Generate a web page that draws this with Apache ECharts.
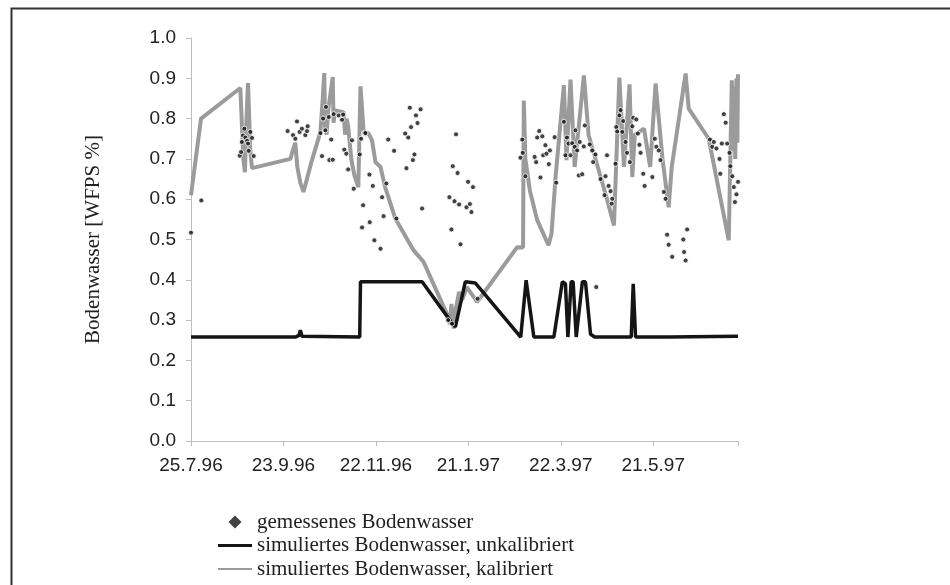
<!DOCTYPE html>
<html>
<head>
<meta charset="utf-8">
<script src="https://cdn.jsdelivr.net/npm/echarts@6/dist/echarts.min.js"></script>
<style>
    html, body { margin: 0; padding: 0; background: #fff; }
    #chart { width: 950px; height: 585px; }
</style>
</head>
<body>
<div id="chart"></div>
<script>
// x = Tage ab 25.7.96, Tickabstand 60 Tage
var xTickLabels = ['25.7.96', '23.9.96', '22.11.96', '21.1.97', '22.3.97', '21.5.97'];

// gemessenes Bodenwasser [Tag, WFPS]
var measured = [
    [0, 0.517], [6.7, 0.597],
    [31.6, 0.708], [32.5, 0.717], [33, 0.742], [33.8, 0.758], [34.6, 0.775], [35.3, 0.753], [36.4, 0.745], [37, 0.738], [37.4, 0.72], [38.5, 0.767], [39.6, 0.752], [40.7, 0.707],
    [62.7, 0.769], [66.2, 0.759], [67.7, 0.75], [68.8, 0.793], [70.5, 0.767], [72, 0.775], [74.2, 0.759], [75.3, 0.769], [75.7, 0.781],
    [84, 0.764], [85, 0.707], [85.7, 0.80], [87.2, 0.771], [87.6, 0.829], [89.4, 0.804], [89.8, 0.697], [91, 0.748], [92, 0.698], [92.6, 0.811], [95.8, 0.808], [98, 0.797], [98.7, 0.81], [99.5, 0.723], [100.8, 0.713], [102, 0.674], [104.5, 0.746], [105.6, 0.626], [109.5, 0.711], [110.4, 0.75], [111, 0.53], [111.7, 0.585], [112.7, 0.765], [113.2, 0.764], [115.8, 0.661], [116, 0.543], [118, 0.633], [119, 0.498], [123, 0.477], [124, 0.605], [125, 0.558], [126.8, 0.639], [128, 0.748], [131.8, 0.72], [133.3, 0.552],
    [139, 0.763], [139.8, 0.677], [141, 0.753], [142, 0.827], [142.8, 0.779], [144, 0.697], [145, 0.711], [146, 0.808], [147, 0.789], [149, 0.823], [150, 0.577],
    [166.9, 0.30], [167.7, 0.605], [169, 0.525], [169.4, 0.291], [169.9, 0.682], [171, 0.595], [172, 0.761], [173, 0.665], [174, 0.587], [174.9, 0.488], [178.8, 0.58], [179.8, 0.643], [181, 0.588], [182, 0.568], [183, 0.63], [186, 0.353],
    [213.8, 0.703], [215, 0.748], [215.3, 0.715], [217, 0.657], [223, 0.705], [224, 0.692], [224.7, 0.753], [226, 0.769], [226.8, 0.654], [228, 0.756], [228.6, 0.709], [230, 0.734], [230.7, 0.713], [232.2, 0.687], [232.9, 0.721],
    [236, 0.754], [237, 0.641], [242, 0.792], [243, 0.709], [244, 0.753], [245, 0.738], [246.3, 0.709], [247.4, 0.739], [249, 0.73], [249.5, 0.771], [250.6, 0.721], [251.7, 0.659], [252.3, 0.742], [253.9, 0.662], [254.9, 0.731], [255.6, 0.783], [258.8, 0.736], [260.4, 0.721], [261, 0.692], [262.5, 0.711], [263, 0.382], [265.8, 0.65], [268.4, 0.61], [269, 0.657], [270, 0.709], [271, 0.633], [272.3, 0.62], [273, 0.589], [273.4, 0.601], [275.5, 0.688], [276, 0.779], [276.6, 0.768], [278, 0.808], [278.8, 0.821], [279.9, 0.767], [280.5, 0.794], [282, 0.742], [283, 0.715], [284.8, 0.692], [286.4, 0.781], [287, 0.802], [289, 0.798], [290, 0.763], [291, 0.735], [291.8, 0.715], [293.5, 0.663], [294.4, 0.633], [299.4, 0.655], [301, 0.75], [302, 0.73], [303.6, 0.721], [304.7, 0.697], [306.9, 0.618], [308, 0.601], [309, 0.512], [310, 0.487], [312.3, 0.457], [319.5, 0.50], [320, 0.469], [321, 0.448], [322, 0.525],
    [336.8, 0.748], [338.3, 0.73], [339.3, 0.742], [341, 0.726], [343, 0.70], [343.5, 0.663], [344.5, 0.738], [345.8, 0.811], [347, 0.79], [348, 0.738], [349.5, 0.715], [350, 0.682], [351.3, 0.657], [352.3, 0.63], [353, 0.593], [354, 0.612], [355, 0.643]
];

// simuliert, unkalibriert
var simUncal = [
    [0, 0.258], [68, 0.258], [70, 0.262], [71, 0.275], [72, 0.26], [109.5, 0.258], [110, 0.395], [150, 0.395],
    [168, 0.30], [171.6, 0.283], [178, 0.395], [184.6, 0.392], [214, 0.258], [217.5, 0.399], [222.5, 0.258],
    [235.5, 0.258], [241, 0.395], [243, 0.39], [244.6, 0.258], [246.7, 0.395], [248, 0.395], [250, 0.258],
    [254, 0.395], [256, 0.395], [259.3, 0.265], [262, 0.258], [285.7, 0.258], [287, 0.39], [288.5, 0.258],
    [310, 0.258], [355, 0.26]
];

// simuliert, kalibriert
var simCal = [
    [0, 0.61], [6.5, 0.80], [32, 0.876], [34, 0.70], [35, 0.667], [36, 0.80], [37, 0.888], [38.5, 0.72], [39.6, 0.677],
    [64.5, 0.70], [66, 0.72], [67.7, 0.74], [69, 0.68], [71, 0.64], [73, 0.618], [78, 0.69], [84, 0.767],
    [85.5, 0.85], [86.5, 0.913], [87, 0.78], [88, 0.76], [89, 0.82], [92, 0.903], [92.5, 0.79], [93.5, 0.82],
    [99, 0.816], [100, 0.76], [101, 0.80], [102, 0.78], [104, 0.70], [106, 0.66], [108.6, 0.63], [110, 0.88],
    [110.6, 0.882], [112, 0.771], [113, 0.76], [115, 0.765], [117.5, 0.746], [119.7, 0.692], [123, 0.68],
    [126, 0.63], [132.6, 0.552], [144.5, 0.473], [151, 0.444], [166, 0.316], [168, 0.29], [169, 0.34],
    [170.5, 0.279], [172, 0.33], [174, 0.37], [176, 0.35], [179, 0.382], [185.7, 0.345], [211.7, 0.481],
    [215.5, 0.48], [216, 0.845], [217, 0.70], [220, 0.62], [224.7, 0.548], [232, 0.486], [234, 0.515],
    [236.6, 0.655], [242, 0.883], [243.7, 0.697], [246.3, 0.897], [249, 0.68], [255, 0.907], [258, 0.76],
    [264, 0.68], [270, 0.60], [274.5, 0.535], [278, 0.902], [281, 0.68], [284.6, 0.885], [286.4, 0.655],
    [288, 0.76], [294, 0.775], [298, 0.68], [301.5, 0.887], [306, 0.70], [310, 0.58], [312, 0.68],
    [321, 0.912], [323, 0.825], [336, 0.75], [349, 0.498], [351, 0.895], [351.8, 0.72], [352.5, 0.88],
    [353.2, 0.70], [354, 0.90], [354.6, 0.74], [355, 0.91]
];

var seriesNames = [
    'gemessenes Bodenwasser',
    'simuliertes Bodenwasser, unkalibriert',
    'simuliertes Bodenwasser, kalibriert'
];

var myChart = echarts.init(document.getElementById('chart'));

var option = {
    backgroundColor: '#fff',
    animation: false,
    grid: { left: 191, right: 212, top: 38, bottom: 144 },
    legend: {
        orient: 'vertical',
        left: 218,
        top: 511,
        height: 80,
        padding: 0,
        itemWidth: 34,
        itemHeight: 13,
        itemGap: 1.5,
        textStyle: { fontFamily: 'Liberation Serif', fontSize: 21, color: '#222', lineHeight: 22 },
        data: [
            { name: seriesNames[0], icon: 'path://M6,0L12,6L6,12L0,6Z', itemStyle: { color: '#111', borderWidth: 0 } },
            { name: seriesNames[1], icon: 'path://M0,0H34V3H0Z', itemStyle: { color: '#151515' } },
            { name: seriesNames[2], icon: 'path://M0,0H34V2H0Z', itemStyle: { color: '#9b9b9b' } }
        ]
    },
    xAxis: {
        type: 'value',
        min: 0,
        max: 355,
        interval: 60,
        axisLine: { show: true, lineStyle: { color: '#bdbdbd', width: 1 } },
        axisTick: { show: true, length: 5, lineStyle: { color: '#bdbdbd' } },
        splitLine: { show: false },
        axisLabel: {
            margin: 15,
            fontFamily: 'Liberation Sans',
            fontSize: 19,
            color: '#222',
            formatter: function (v) {
                return xTickLabels[Math.round(v / 60)] || '';
            }
        }
    },
    yAxis: {
        type: 'value',
        min: 0,
        max: 1,
        interval: 0.1,
        name: 'Bodenwasser [WFPS %]',
        nameLocation: 'middle',
        nameRotate: 90,
        nameGap: 87,
        nameTextStyle: { fontFamily: 'Liberation Serif', fontSize: 21, color: '#222' },
        axisLine: { show: true, lineStyle: { color: '#bdbdbd', width: 1 } },
        axisTick: { show: true, length: 5, lineStyle: { color: '#bdbdbd' } },
        splitLine: { show: false },
        axisLabel: {
            margin: 15,
            fontFamily: 'Liberation Sans',
            fontSize: 19,
            color: '#222',
            formatter: function (v) { return v.toFixed(1); }
        }
    },
    series: [
        {
            name: seriesNames[2],
            type: 'line',
            data: simCal,
            showSymbol: false,
            z: 2,
            itemStyle: { color: '#9b9b9b' },
            lineStyle: { color: '#9b9b9b', width: 4 }
        },
        {
            name: seriesNames[1],
            type: 'line',
            data: simUncal,
            showSymbol: false,
            z: 3,
            itemStyle: { color: '#151515' },
            lineStyle: { color: '#151515', width: 3.5 }
        },
        {
            name: seriesNames[0],
            type: 'scatter',
            data: measured,
            symbol: 'circle',
            symbolSize: 5,
            z: 4,
            itemStyle: { color: '#111', borderColor: '#fff', borderWidth: 1 }
        }
    ],
    graphic: [
        {
            // Rahmen links und oben
            type: 'polyline',
            shape: { points: [[11.5, 585], [11.5, 8.5], [950, 8.5]] },
            style: { stroke: '#333', lineWidth: 2, fill: null },
            silent: true
        }
    ]
};

myChart.setOption(option);
</script>
</body>
</html>
